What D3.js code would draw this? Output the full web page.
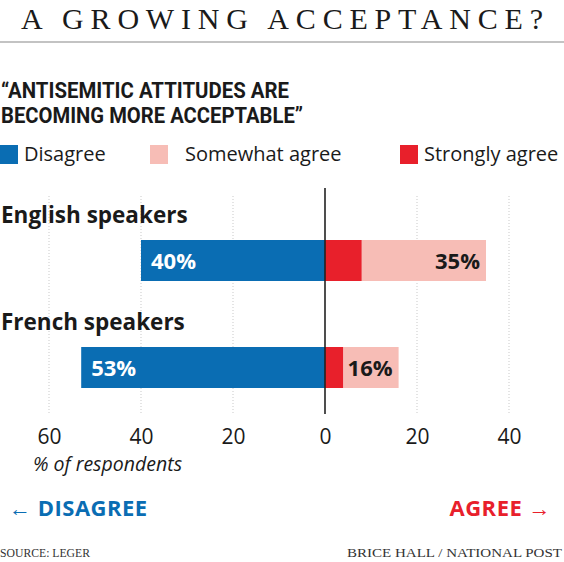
<!DOCTYPE html>
<html lang="en">
<head>
<meta charset="UTF-8">
<script src="https://d3js.org/d3.v7.min.js"></script>
<title>A growing acceptance?</title>
<style>
  body { margin: 0; background: #fff; }
  text { font-family: "Open Sans", "Liberation Sans", sans-serif; }
</style>
</head>
<body>
<script>
// data
var groups = ["English speakers", "French speakers"];
var disagree = [40, 53];
var strongly = [8, 4];
var somewhat = [27, 12];
var agreeTotal = [35, 16];
var ticks = [-60, -40, -20, 0, 20, 40];
var legendItems = ["Disagree", "Somewhat agree", "Strongly agree"];

var W = 564, H = 562;
var blue = "#0a6db3", red = "#e8202b", pink = "#f7bdb6", ink = "#1a1a1a";

var svg = d3.select("body").append("svg").attr("width", W).attr("height", H);

// title
svg.append("text").attr("x", 21).attr("y", 29)
  .attr("textLength", 522).attr("lengthAdjust", "spacing")
  .style("font-family", "'Liberation Serif', 'DejaVu Serif', serif")
  .style("font-size", "30px").style("fill", ink)
  .text("A GROWING ACCEPTANCE?");
svg.append("line").attr("x1", 0).attr("x2", W).attr("y1", 42).attr("y2", 42)
  .style("stroke", "#888").style("stroke-width", 1.2);

// subtitle (condensed look)
var sub = ["“ANTISEMITIC ATTITUDES ARE", "BECOMING MORE ACCEPTABLE”"];
var subW = [288, 302];
svg.selectAll(".sub").data(sub).join("text").attr("class", "sub")
  .attr("x", 1).attr("y", (d, i) => 98 + i * 25)
  .attr("textLength", (d, i) => subW[i]).attr("lengthAdjust", "spacingAndGlyphs")
  .style("font-family", "'Roboto', 'Liberation Sans', sans-serif")
  .style("font-weight", "bold").style("font-size", "22px").style("fill", ink)
  .text(d => d);

// legend
var legX = [0, 150, 400];
var legColor = [blue, pink, red];
var leg = svg.selectAll(".leg").data(legendItems).join("g").attr("class", "leg")
  .attr("transform", (d, i) => "translate(" + legX[i] + ",145)");
leg.append("rect").attr("width", 18).attr("height", 19).style("fill", (d, i) => legColor[i]);
leg.append("text").attr("x", (d, i) => i == 1 ? 35 : 24).attr("y", 16)
  .style("font-size", "20px").style("fill", ink).text(d => d);

// scales
var x = d3.scaleLinear().domain([-60, 40]).range([49, 509]);
var y = d3.scaleBand().domain(groups).range([196, 410]).paddingInner(0);

// grid
svg.selectAll(".grid").data(ticks.filter(t => t != 0)).join("line").attr("class", "grid")
  .attr("x1", d => x(d)).attr("x2", d => x(d)).attr("y1", 196).attr("y2", 414)
  .style("stroke", "#bbb").style("stroke-width", 0.8).style("stroke-dasharray", "1,2");

// bars
var bh = 41;
function barY(g) { return y(g) + 44; }
svg.selectAll(".dis").data(groups).join("rect").attr("class", "dis")
  .attr("x", (d, i) => x(-disagree[i])).attr("width", (d, i) => x(0) - x(-disagree[i]))
  .attr("y", d => barY(d)).attr("height", bh).style("fill", blue);
svg.selectAll(".str").data(groups).join("rect").attr("class", "str")
  .attr("x", x(0)).attr("width", (d, i) => x(strongly[i]) - x(0))
  .attr("y", d => barY(d)).attr("height", bh).style("fill", red);
svg.selectAll(".som").data(groups).join("rect").attr("class", "som")
  .attr("x", (d, i) => x(strongly[i])).attr("width", (d, i) => x(strongly[i] + somewhat[i]) - x(strongly[i]))
  .attr("y", d => barY(d)).attr("height", bh).style("fill", pink);

// bar labels
svg.selectAll(".dl").data(groups).join("text").attr("class", "dl")
  .attr("x", (d, i) => x(-disagree[i]) + 10).attr("y", d => barY(d) + 29)
  .style("font-size", "22px").style("font-weight", "bold").style("fill", "#fff")
  .text((d, i) => disagree[i] + "%");
svg.selectAll(".al").data(groups).join("text").attr("class", "al")
  .attr("x", (d, i) => x(agreeTotal[i]) - 6).attr("y", d => barY(d) + 29)
  .attr("text-anchor", "end")
  .style("font-size", "22px").style("font-weight", "bold").style("fill", ink)
  .text((d, i) => agreeTotal[i] + "%");

// group labels
svg.selectAll(".gl").data(groups).join("text").attr("class", "gl")
  .attr("x", 1).attr("y", d => barY(d) - 17)
  .style("font-size", "22.5px").style("font-weight", "bold").style("fill", ink)
  .text(d => d);

// zero line
svg.append("line").attr("x1", x(0)).attr("x2", x(0)).attr("y1", 188).attr("y2", 414)
  .style("stroke", "#222").style("stroke-width", 1.6);

// axis
var axis = d3.axisBottom(x).tickValues(ticks).tickSize(0).tickFormat(d => Math.abs(d));
var ax = svg.append("g").attr("transform", "translate(0,426)").call(axis);
ax.select(".domain").remove();
ax.selectAll("text").style("font-size", "21px").style("fill", ink)
  .style("font-family", "'Open Sans', sans-serif");

svg.append("text").attr("x", 33).attr("y", 471)
  .style("font-size", "19.5px").style("font-style", "italic").style("fill", ink)
  .text("% of respondents");

// direction labels
svg.append("text").attr("x", 9).attr("y", 516)
  .style("font-size", "22px").style("font-weight", "bold").style("fill", blue)
  .style("letter-spacing", "0.5px")
  .text("← DISAGREE");
svg.append("text").attr("x", 551).attr("y", 516).attr("text-anchor", "end")
  .style("font-size", "22px").style("font-weight", "bold").style("fill", red)
  .style("letter-spacing", "0.5px")
  .text("AGREE →");

// footer
svg.append("text").attr("x", 0).attr("y", 557)
  .attr("textLength", 90).attr("lengthAdjust", "spacingAndGlyphs")
  .style("font-family", "'Liberation Serif', serif").style("font-size", "13px").style("fill", "#333")
  .text("SOURCE: LEGER");
svg.append("text").attr("x", 347).attr("y", 557)
  .attr("textLength", 215).attr("lengthAdjust", "spacingAndGlyphs")
  .style("font-family", "'Liberation Serif', serif").style("font-size", "13px").style("fill", "#333")
  .text("BRICE HALL  / NATIONAL POST");
</script>
</body>
</html>
